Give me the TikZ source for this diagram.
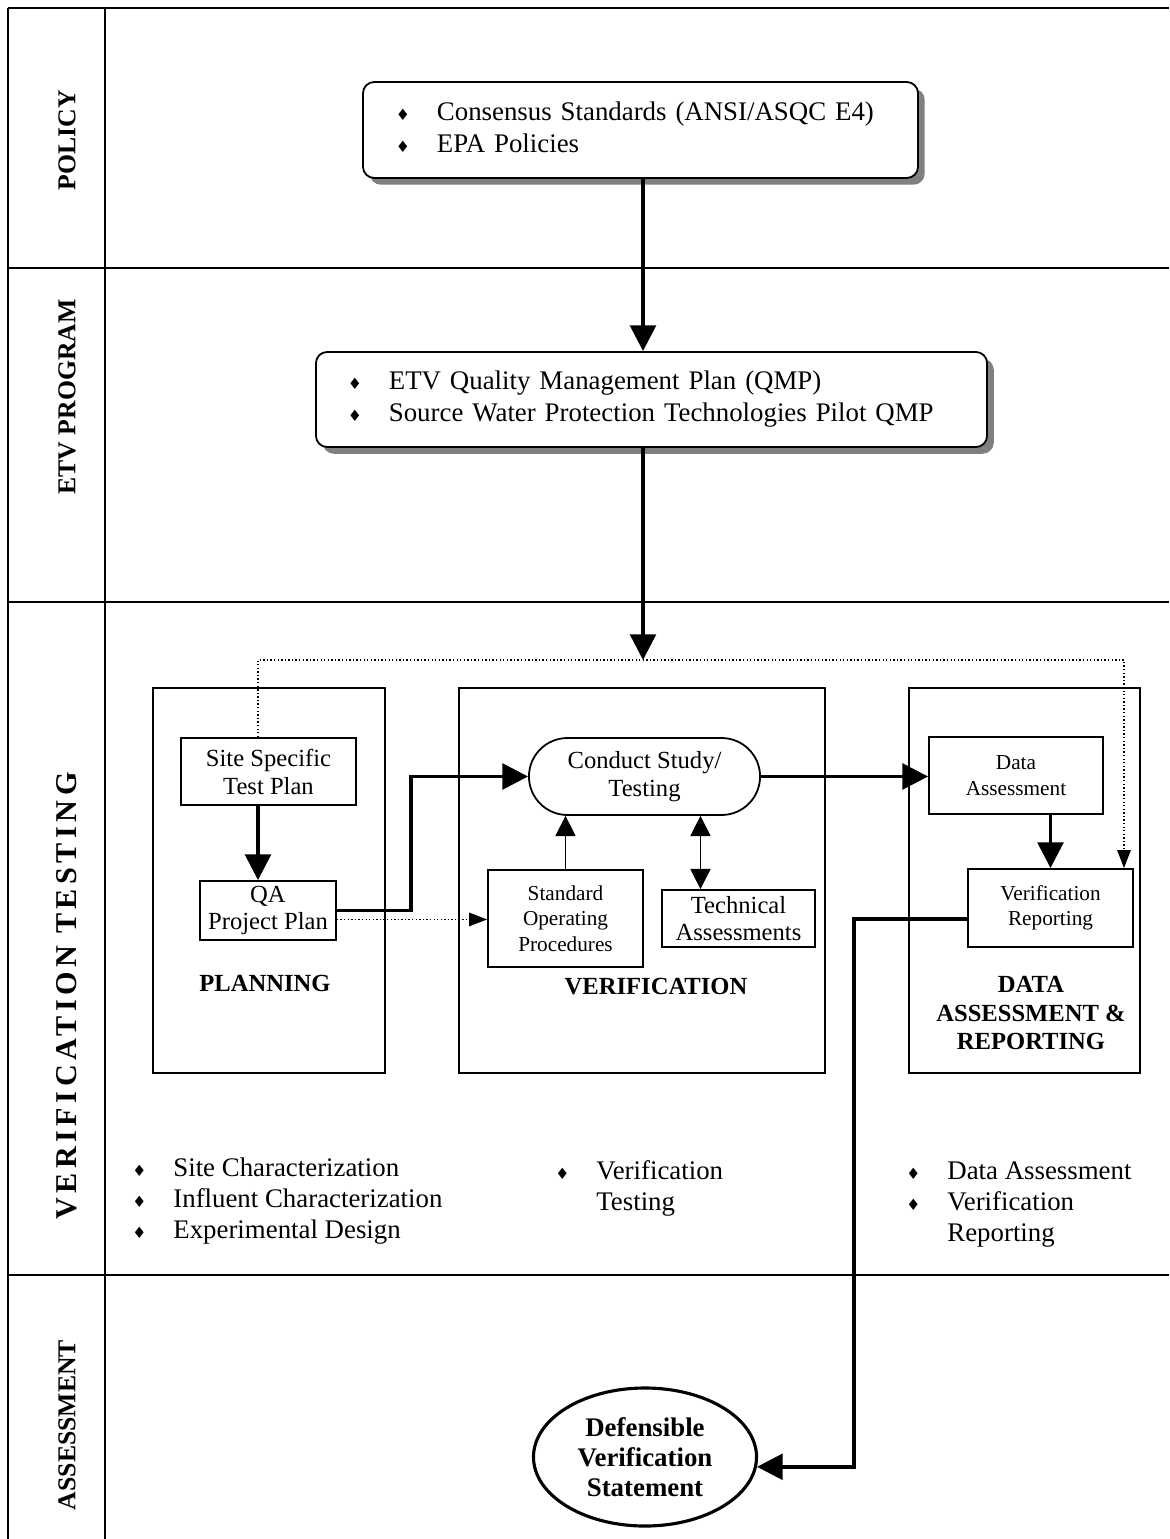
\documentclass[tikz,border=0pt]{standalone}
\usepackage{fontspec}
\setmainfont{Liberation Serif}
\newfontfamily\diafont{DejaVu Sans}
\usetikzlibrary{shapes,arrows.meta,shadows}

\newcommand{\bul}{\makebox[18.3pt][l]{\diafont\fontsize{7}{7}\selectfont ♦}}

\tikzset{
  box/.style={draw, line width=0.8pt, align=center, inner sep=0pt},
  big/.style={font=\fontsize{12}{14.3}\selectfont},
  mid/.style={font=\fontsize{11}{12.5}\selectfont},
  sml/.style={font=\fontsize{9.5}{11.3}\selectfont},
  shadowed/.style={fill=white, rounded corners=5pt, drop shadow={shadow xshift=3pt, shadow yshift=-3pt, fill=black!50, opacity=1}},
  flow/.style={line width=1.6pt, -{Triangle[length=11.5pt,width=11.5pt]}},
  link/.style={line width=0.6pt, -{Triangle[length=9pt,width=9pt]}},
  dots/.style={densely dotted, line width=0.6pt, -{Triangle[length=8pt,width=6pt]}},
  lane/.style={rotate=90, font=\bfseries\fontsize{11.5}{13}\selectfont},
  grp/.style={align=center, font=\bfseries\fontsize{11}{12.7}\selectfont},
  bullets/.style={anchor=base west, inner sep=0pt, font=\fontsize{12}{14}\selectfont}
}

\begin{document}
\begin{tikzpicture}[x=0.447pt, y=-0.447pt]
    \useasboundingbox (0,0) rectangle (1169,1539);

    %%lanes
    \draw[line width=0.9pt] (8,8) -- (1169,8);
    \draw[line width=0.9pt] (8,8) -- (8,1539);
    \draw[line width=0.9pt] (105,8) -- (105,1539);
    \draw[line width=0.9pt] (8,268) -- (1169,268);
    \draw[line width=0.9pt] (8,602) -- (1169,602);
    \draw[line width=0.9pt] (8,1275) -- (1169,1275);

    \node[lane] (lpol) at (67,140) {POLICY};
    \node[lane] (letv) at (67,397) {ETV PROGRAM};
    \node[lane, font=\bfseries\fontsize{13.5}{15}\selectfont] (lver) at (67,996) {\addfontfeature{LetterSpace=15}VERIFICATION TESTING};
    \node[lane] (lass) at (67,1425) {ASSESSMENT};

    %%policy and program
    \node[box, big, shadowed, align=left, text width=218.6pt, inner xsep=14.75pt, minimum height=42.9pt]
        (pol) at (640.5,130) {\begin{tabular}{@{}l@{}}\bul Consensus Standards (ANSI/ASQC E4)\\\bul EPA Policies\end{tabular}};
    \node[box, big, shadowed, align=left, text width=271.4pt, inner xsep=14.3pt, minimum height=42.5pt]
        (etv) at (651.5,399.5) {\begin{tabular}{@{}l@{}}\bul ETV Quality Management Plan (QMP)\\\bul Source Water Protection Technologies Pilot QMP\end{tabular}};

    \coordinate (split) at (643,660);
    \coordinate (dl) at (258,660);
    \coordinate (dr) at (1124,660);

    \draw[flow] (pol.south -| split) -- (etv.north -| split);
    \draw[flow] (etv.south -| split) -- (split);

    %%verification testing
    \draw[line width=0.8pt] (153,688) rectangle (385,1073);
    \draw[line width=0.8pt] (459,688) rectangle (825,1073);
    \draw[line width=0.8pt] (909,688) rectangle (1140,1073);

    \node[box, mid, minimum width=78.2pt, minimum height=30pt] (site) at (268.5,771.5) {Site Specific\\Test Plan};
    \node[box, mid, font=\fontsize{11}{12}\selectfont, minimum width=60.8pt, minimum height=26.4pt] (qa) at (268,910.5) {QA\\Project Plan};
    \node[box, mid, rounded rectangle, minimum width=103.3pt, minimum height=34.4pt] (cond) at (644.5,776.5) {Conduct Study/\\Testing};
    \node[box, sml, minimum width=69.3pt, minimum height=43.4pt] (sop) at (565.5,918.5) {Standard\\Operating\\Procedures};
    \node[box, mid, font=\fontsize{11}{12}\selectfont, minimum width=68.4pt, minimum height=25.5pt] (tech) at (738.5,918.5) {Technical\\Assessments};
    \node[box, sml, minimum width=77.8pt, minimum height=34.4pt] (da) at (1016,775.5) {Data\\Assessment};
    \node[box, sml, minimum width=73.8pt, minimum height=34.9pt] (vr) at (1050.5,908) {Verification\\Reporting};

    \node[grp] (lplan) at (265,983) {PLANNING};
    \node[grp] (lverif) at (656,987) {VERIFICATION};
    \node[grp] (ldata) at (1031,1013) {DATA\\ASSESSMENT \&\\REPORTING};

    \draw[dots] (site.north -| dl) -- (dl) -- (dr) -- (dr |- vr.north);
    \draw[flow] (site.south -| dl) -- (qa.north -| dl);
    \draw[flow] (qa.east) -- ++(74,0) |- (cond.west);
    \draw[dots] ([yshift=-4pt]qa.east) -- ([yshift=-4pt]qa.east -| sop.west);
    \draw[link] (sop.north) -- (sop.north |- cond.south);
    \draw[link, {Triangle[length=9pt,width=9pt]}-{Triangle[length=9pt,width=9pt]}]
        ([xshift=-17pt]tech.north |- cond.south) -- ([xshift=-17pt]tech.north);
    \draw[flow] (cond.east) -- (cond.east -| da.west);
    \draw[flow] (vr.north |- da.south) -- (vr.north);

    \node[bullets] (planlist) at (132,1176) {\begin{tabular}[t]{@{}l@{}}\bul Site Characterization\\\bul Influent Characterization\\\bul Experimental Design\end{tabular}};
    \node[bullets] (verlist) at (555,1179) {\begin{tabular}[t]{@{}l@{}}\bul Verification\\\hspace{18.3pt}Testing\end{tabular}};
    \node[bullets] (replist) at (906,1179) {\begin{tabular}[t]{@{}l@{}}\bul Data Assessment\\\bul Verification\\\hspace{18.3pt}Reporting\end{tabular}};

    %%assessment
    \node[ellipse, draw, line width=1.4pt, align=center, inner sep=0pt, minimum width=99.7pt, minimum height=61.7pt,
        font=\bfseries\fontsize{12}{13.4}\selectfont] (stmt) at (645,1457) {Defensible\\Verification\\Statement};

    \draw[flow] ([yshift=-5pt]vr.west) -- ++(-113,0) |- (stmt.-5);
\end{tikzpicture}
\end{document}
